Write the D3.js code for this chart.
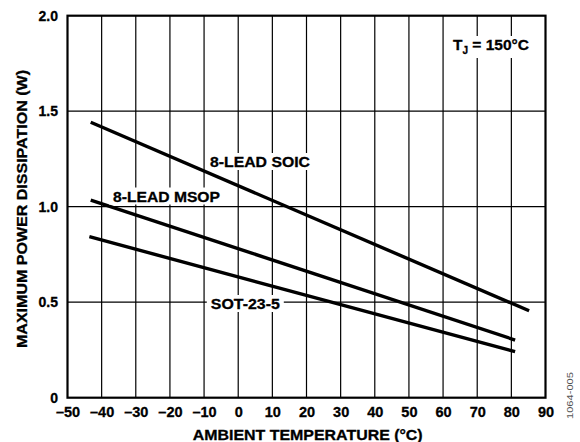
<!DOCTYPE html>
<html>
<meta charset="utf-8">
<head>
<style>
body { margin:0; padding:0; background:#fff; }
svg text { font-family: "Liberation Sans", Arial, sans-serif; font-weight: bold; fill: #000; }
.heavy { stroke: #000; stroke-width: 0.3px; }
</style>
</head>
<body>
<svg></svg>
<script src="https://d3js.org/d3.v7.min.js"></script>
<script>

// ambient temperature (°C) at both ends of each curve, and power (W)
var soicT = [-43.2, 85.2],   soicP = [1.442, 0.455];
var msopT = [-43.2, 81.1],   msopP = [1.035, 0.302];
var sotT  = [-43.6, 81.1],   sotP  = [0.843, 0.241];

var xTicks = [-50, -40, -30, -20, -10, 0, 10, 20, 30, 40, 50, 60, 70, 80, 90];
var yTicks = [0, 0.5, 1.0, 1.5, 2.0];
var yTickLabels = ["0", "0.5", "1.0", "1.5", "2.0"];

var width = 580, height = 442;
var margin = {left: 67.5, top: 15.7, right: 34.5, bottom: 44.3};

var svg = d3.select("svg")
  .attr("width", width)
  .attr("height", height);

var x = d3.scaleLinear().domain([-50, 90]).range([margin.left, width - margin.right]);
var y = d3.scaleLinear().domain([0, 2]).range([height - margin.bottom, margin.top]);

var g = svg.append("g");

// grid
g.append("g").selectAll("line").data(xTicks.slice(1, -1)).enter().append("line")
  .attr("x1", function(d) { return x(d); }).attr("x2", function(d) { return x(d); })
  .attr("y1", y(0)).attr("y2", y(2))
  .attr("stroke", "#000").attr("stroke-width", 1.2);
g.append("g").selectAll("line").data(yTicks.slice(1, -1)).enter().append("line")
  .attr("y1", function(d) { return y(d); }).attr("y2", function(d) { return y(d); })
  .attr("x1", x(-50)).attr("x2", x(90))
  .attr("stroke", "#000").attr("stroke-width", 1.2);

// labels with white boxes that cut the grid
function label(txt, cx, base, len) {
  var t = g.append("text").attr("class", "heavy").attr("x", cx).attr("y", base)
    .attr("text-anchor", "middle")
    .attr("textLength", len).attr("lengthAdjust", "spacingAndGlyphs")
    .style("font-size", "15px").text(txt);
  var b = t.node().getBBox();
  g.insert("rect", "text").attr("x", b.x - 4).attr("y", b.y).attr("width", b.width + 8).attr("height", b.height)
    .attr("fill", "#fff");
  return t;
}

var series = [[soicT, soicP], [msopT, msopP], [sotT, sotP]];
var line = d3.line().x(function(d) { return x(d[0]); }).y(function(d) { return y(d[1]); });
series.forEach(function(s) {
  g.append("path")
    .datum(d3.zip(s[0], s[1]))
    .attr("d", line)
    .attr("fill", "none").attr("stroke", "#000").attr("stroke-width", 3.4);
});

label("8-LEAD SOIC", 260, 167, 100);
label("8-LEAD MSOP", 166.5, 201.5, 107);
label("SOT-23-5", 245.3, 309, 69);

// T_J label
var tj = g.append("text").attr("class", "heavy").attr("x", 453).attr("y", 50).attr("text-anchor", "start")
  .style("font-size", "15.5px");
tj.append("tspan").text("T");
tj.append("tspan").attr("dy", 4).style("font-size", "10px").text("J");
tj.append("tspan").attr("dy", -4).text(" = 150°C");
var tb = tj.node().getBBox();
g.insert("rect", "text").attr("x", tb.x - 4).attr("y", tb.y).attr("width", tb.width + 8).attr("height", tb.height + 2)
  .attr("fill", "#fff");

// frame
g.append("rect").attr("x", x(-50)).attr("y", y(2))
  .attr("width", x(90) - x(-50)).attr("height", y(0) - y(2))
  .attr("fill", "none").attr("stroke", "#000").attr("stroke-width", 2.2);

// axes
var xAxis = d3.axisBottom(x).tickValues(xTicks).tickSize(0).tickPadding(9)
  .tickFormat(function(d) { return d < 0 ? "\u2013" + Math.abs(d) : d; });
var gx = svg.append("g").attr("transform", "translate(0," + y(0) + ")").call(xAxis);
gx.select(".domain").remove();
gx.selectAll("text").attr("class", "heavy").style("font-size", "14.5px").attr("fill", "#000")
  .style("font-family", "'Liberation Sans', Arial, sans-serif").style("font-weight", "bold");

var yAxis = d3.axisLeft(y).tickValues(yTicks).tickSize(0).tickPadding(9.5)
  .tickFormat(function(d, i) { return yTickLabels[i]; });
var gy = svg.append("g").attr("transform", "translate(" + x(-50) + ",0)").call(yAxis);
gy.select(".domain").remove();
gy.selectAll("text").attr("class", "heavy").style("font-size", "14px").attr("fill", "#000")
  .style("font-family", "'Liberation Sans', Arial, sans-serif").style("font-weight", "bold");

// axis titles
svg.append("text").attr("class", "heavy").attr("x", 307.7).attr("y", 439.5)
  .attr("text-anchor", "middle").style("font-size", "14px")
  .attr("textLength", 230).attr("lengthAdjust", "spacingAndGlyphs")
  .text("AMBIENT TEMPERATURE (°C)");
svg.append("text").attr("class", "heavy")
  .attr("transform", "translate(26.5,209) rotate(-90)")
  .attr("text-anchor", "middle").style("font-size", "14px")
  .attr("textLength", 278).attr("lengthAdjust", "spacingAndGlyphs")
  .text("MAXIMUM POWER DISSIPATION (W)");

// figure number
svg.append("text")
  .attr("transform", "translate(573,419) rotate(-90)")
  .attr("textLength", 47).attr("lengthAdjust", "spacingAndGlyphs")
  .style("font-size", "9px").style("font-weight", "normal").style("fill", "#555")
  .text("1064-005");

</script>
</body>
</html>
